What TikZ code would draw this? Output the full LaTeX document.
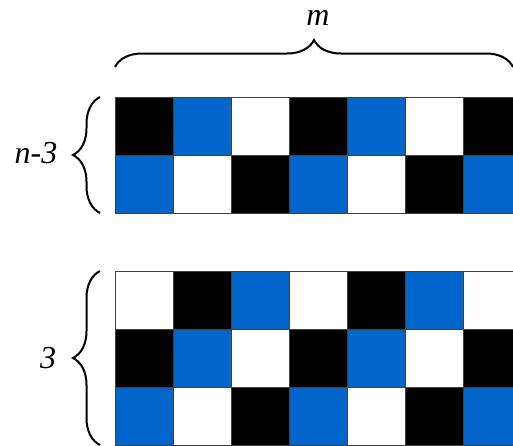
\documentclass[tikz,border=0pt]{standalone}
\usepackage{fontspec}
\setmainfont{Liberation Serif}
\usetikzlibrary{decorations.pathreplacing}
\definecolor{cellblue}{RGB}{0,102,204}
\tikzstyle{cell} = [draw=black!75, line width=0.5pt]
\tikzstyle{brace} = [decorate, decoration={brace, amplitude=13.5pt}, line width=1pt]
\tikzstyle{dimtext} = [font=\fontsize{16}{19}\selectfont\itshape, inner sep=0pt, anchor=base]

\begin{document}
\begin{tikzpicture}[x=0.5pt, y=-0.5pt]
    \useasboundingbox (0,0) rectangle (513,445);
    \clip (0,0) rectangle (513,445);

    % rows of the two blocks, the pattern runs on from one block to the next
    \foreach \r/\y in {0/97, 1/155, 2/271, 3/329, 4/387} {
        \foreach \c in {0,...,6} {
            \pgfmathtruncatemacro\k{mod(\c+\r,3)}
            \ifcase\k \def\col{black}\or \def\col{cellblue}\or \def\col{white}\fi
            \filldraw[cell, fill=\col] (115+58*\c, \y) rectangle ++(58,58);
        }
    }

    \coordinate (mleft) at (115,67);
    \coordinate (mright) at (513,67);
    \coordinate (ntop) at (100,97);
    \coordinate (nbot) at (100,213);
    \coordinate (ttop) at (100,271);
    \coordinate (tbot) at (100,445);

    \draw[brace] (mleft) -- (mright);
    \draw[brace] (nbot) -- (ntop);
    \draw[brace] (tbot) -- (ttop);

    \node[dimtext] (mlabel) at (318,25) {m};
    \node[dimtext] (nlabel) at (36,163) {n-3};
    \node[dimtext] (tlabel) at (48,368) {3};

\end{tikzpicture}
\end{document}
